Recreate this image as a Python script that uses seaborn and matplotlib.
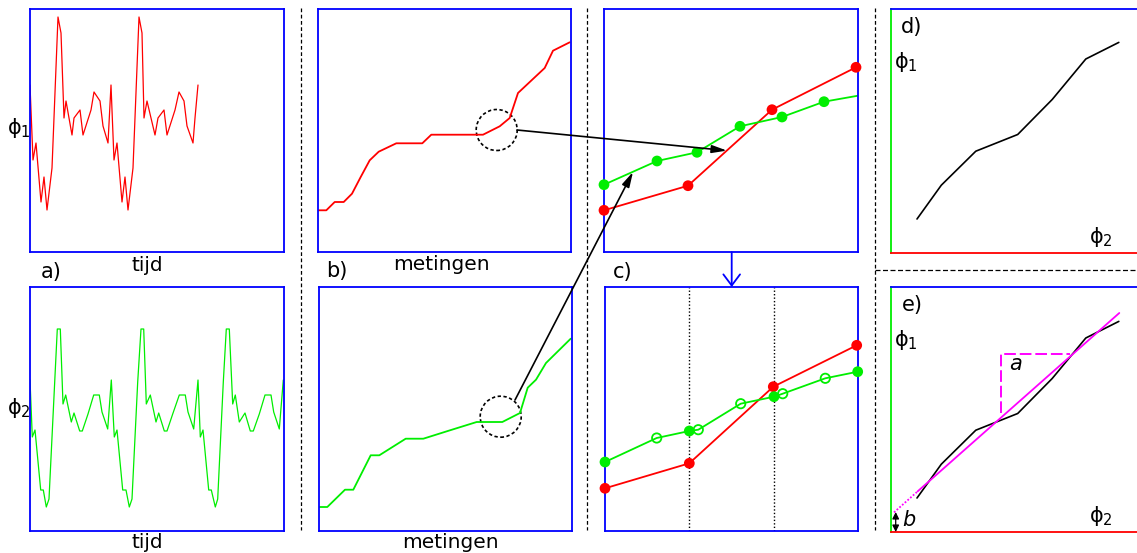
import matplotlib
matplotlib.use("Agg")
import matplotlib.pyplot as plt
import seaborn as sns
from matplotlib.patches import Circle, ConnectionPatch, FancyArrowPatch
from matplotlib.lines import Line2D

# a) ruwe signalen (tijd in px-eenheden van het paneel)
phi1_t = [0, 3, 6, 11, 14, 17, 22, 28, 31, 34, 36, 42, 44, 50, 53, 61, 64, 70, 73, 78,
          81, 84, 87, 92, 95, 98, 103, 109, 112, 114, 117, 125, 128, 134, 137, 145, 149, 154, 157, 163,
          165, 168]
phi1_v = [167, 92, 109, 50, 75, 42, 84, 235, 219, 134, 151, 117, 134, 142, 117, 142, 160, 151, 126, 109,
          167, 92, 109, 50, 75, 42, 84, 235, 219, 134, 151, 117, 134, 142, 117, 142, 160, 151, 126, 109,
          134, 167]
phi2_t = [0, 2.3, 5, 10.7, 13.3, 16.3, 19, 24.7, 27.3, 30.3, 33, 35.7, 41.3, 44, 49.7, 52.3, 58, 63.7, 69.3, 72, 77.7,
          81.3, 84.3, 87, 92.7, 96, 99.3, 102, 107.7, 111, 113.7, 116.3, 120.3, 126, 128.7, 134.3, 137, 142.7, 149.3, 155.3, 158, 163.7,
          168, 170.3, 173, 178.7, 181.3, 185.3, 187.7, 193.3, 196.3, 199.3, 202.7, 205.3, 209.3, 215, 220.3, 223.3, 229.3, 235, 241, 243.7, 249.3,
          253.3]
phi2_v = [151, 94, 101, 41, 41, 24, 32, 149, 202, 202, 127, 136, 109, 118, 100, 100, 117, 136, 136, 119, 102,
          151, 94, 101, 41, 41, 24, 32, 149, 202, 202, 127, 136, 109, 118, 100, 100, 117, 136, 136, 119, 102,
          151, 94, 101, 41, 41, 24, 32, 149, 202, 202, 127, 136, 109, 118, 100, 100, 117, 136, 136, 119, 102,
          151]

# b) gesorteerde metingen
b1_t = [0, 8.3, 16.7, 25.7, 34, 42.7, 51.7, 60.7, 78.3, 104.3, 113.3, 165, 181.7, 191.7, 200, 226.7, 235, 251.7]
b1_v = [41.7, 41.7, 50, 50, 58.3, 75, 91.7, 100.3, 108.7, 108.7, 117.3, 117.3, 125.7, 134, 159, 184, 201.3, 209.7]
b2_t = [0, 8.3, 26, 34.3, 51.7, 60.3, 86.7, 104.3, 131, 157.7, 183.3, 201, 208.7, 217, 227, 251.7]
b2_v = [24, 24, 41.3, 41.3, 75.7, 75.7, 92.3, 92.3, 100.7, 109, 109, 118, 143.3, 151.3, 168, 192.3]

# c) bovenste paneel
c1_red_t = [0, 84, 168, 252]
c1_red_v = [41.7, 66.3, 142.3, 184.7]
c1_green_t = [0, 53, 93, 136, 178, 220, 254]
c1_green_v = [67.3, 91, 99.7, 125.7, 135, 150.3, 156.3]
c1_green_dots = 6

# c) onderste paneel
grid_t = [84.3, 169]
c2_red_t = [0, 84.3, 168.3, 251.7]
c2_red_v = [42.7, 67.7, 144.3, 185.7]
c2_green_t = [0, 51.7, 84.3, 93.3, 135.7, 169, 177.7, 220.3, 252.7]
c2_green_v = [69, 93, 100, 101.3, 127.3, 134.3, 137.3, 152.7, 159.3]
c2_filled = [0, 2, 5, 8]
c2_open = [1, 3, 4, 6, 7]

# d) en e) phi1 tegen phi2
d_t = [26, 50.3, 84.8, 126.7, 161.2, 194.8, 227.8]
d_v = [34, 67.8, 101.8, 118.5, 153.5, 194, 210.6]
fit_x = [26.7, 228.3]
fit_y = [40.7, 219]
ext_x = [3, 26.7]
ext_y = [19.6, 40.7]
tri_x = [109.7, 109.7, 179]
tri_y = [119, 177.7, 177.7]

RED = "#ff0000"
GREEN = "#00ee00"
BLUE = "#0000ff"
MAGENTA = "#ff00ff"

sns.set_style("white")
plt.rcParams["font.family"] = ["DejaVu Sans"]
plt.rcParams["mathtext.fontset"] = "dejavusans"
plt.rcParams["text.color"] = "black"

W, H = 1137, 553
fig = plt.figure(figsize=(W / 100, H / 100), dpi=100)


def panel(l, t, r, b):
    ax = fig.add_axes([l / W, 1 - b / H, (r - l) / W, (b - t) / H])
    ax.set_xlim(0, r - l)
    ax.set_ylim(0, b - t)
    ax.set_xticks([])
    ax.set_yticks([])
    for s in ax.spines.values():
        s.set_color(BLUE)
        s.set_linewidth(1.3)
    return ax


def ftext(x, y, s, size=14, **kw):
    fig.text(x / W, 1 - y / H, s, ha="center", va="center", fontsize=size, color="black", **kw)


def fline(xs, ys, **kw):
    fig.add_artist(Line2D([x / W for x in xs], [1 - y / H for y in ys],
                          transform=fig.transFigure, **kw))


# a)
a1 = panel(30, 9, 284, 252)
sns.lineplot(x=phi1_t, y=phi1_v, ax=a1, color=RED, lw=0.9, sort=False, estimator=None)
a2 = panel(30, 287, 284, 531)
sns.lineplot(x=phi2_t, y=phi2_v, ax=a2, color=GREEN, lw=0.9, sort=False, estimator=None)

# b)
b1 = panel(318, 9, 571, 252)
sns.lineplot(x=b1_t, y=b1_v, ax=b1, color=RED, lw=1.3, sort=False, estimator=None)
b1.add_patch(Circle((178.7, 122), 20.5, fill=False, ls=(0, (2, 1.5)), lw=1.2, color="black"))
b2 = panel(319, 287, 572, 531)
sns.lineplot(x=b2_t, y=b2_v, ax=b2, color=GREEN, lw=1.3, sort=False, estimator=None)
b2.add_patch(Circle((181.7, 114.3), 20.5, fill=False, ls=(0, (2, 1.5)), lw=1.2, color="black"))

# c) boven
c1 = panel(604, 9, 858, 252)
sns.lineplot(x=c1_red_t, y=c1_red_v, ax=c1, color=RED, lw=1.3, sort=False, estimator=None)
sns.lineplot(x=c1_green_t, y=c1_green_v, ax=c1, color=GREEN, lw=1.3, sort=False, estimator=None)
sns.scatterplot(x=c1_red_t, y=c1_red_v, ax=c1, color=RED, s=60, edgecolor="none", zorder=4, clip_on=False)
sns.scatterplot(x=c1_green_t[:c1_green_dots], y=c1_green_v[:c1_green_dots], ax=c1, color=GREEN,
                s=60, edgecolor="none", zorder=4, clip_on=False)

# c) onder
c2 = panel(605, 287, 858, 531)
for g in grid_t:
    c2.axvline(g, color="black", ls=(0, (1, 1.5)), lw=1)
sns.lineplot(x=c2_red_t, y=c2_red_v, ax=c2, color=RED, lw=1.3, sort=False, estimator=None)
sns.lineplot(x=c2_green_t, y=c2_green_v, ax=c2, color=GREEN, lw=1.3, sort=False, estimator=None)
sns.scatterplot(x=c2_red_t, y=c2_red_v, ax=c2, color=RED, s=60, edgecolor="none", zorder=4, clip_on=False)
sns.scatterplot(x=[c2_green_t[i] for i in c2_filled], y=[c2_green_v[i] for i in c2_filled], ax=c2,
                color=GREEN, s=60, edgecolor="none", zorder=4, clip_on=False)
sns.scatterplot(x=[c2_green_t[i] for i in c2_open], y=[c2_green_v[i] for i in c2_open], ax=c2,
                color=GREEN, facecolor="none", edgecolor=GREEN, linewidth=1.3, s=45, zorder=4)

# d) en e)
for top, bot, label in [(9, 253, "d)"), (287, 532, "e)")]:
    ax = panel(891, top, 1137, bot)
    ax.spines["right"].set_visible(False)
    ax.spines["left"].set_color(GREEN)
    ax.spines["bottom"].set_color(RED)
    sns.lineplot(x=d_t, y=d_v, ax=ax, color="black", lw=1.2, sort=False, estimator=None)
    if label == "e)":
        sns.lineplot(x=fit_x, y=fit_y, ax=ax, color=MAGENTA, lw=1.3, sort=False, estimator=None)
        sns.lineplot(x=ext_x, y=ext_y, ax=ax, color=MAGENTA, lw=1.3, ls=(0, (1, 1)),
                     sort=False, estimator=None)
        sns.lineplot(x=tri_x, y=tri_y, ax=ax, color=MAGENTA, lw=1.4, ls=(0, (6, 2)),
                     sort=False, estimator=None)
        ax.annotate("", xy=(4.7, 0), xytext=(4.7, 20),
                    arrowprops=dict(arrowstyle="<|-|>,head_length=0.5,head_width=0.25", lw=0.9,
                                    color="black", mutation_scale=8, shrinkA=0, shrinkB=0))
    ftext(912, top + 18, label, size=15)
    ftext(906, top + 53, r"$\mathrm{\phi}_1$", size=15)
    ftext(1101, bot - 16, r"$\mathrm{\phi}_2$", size=15)

ftext(1016, 364, "a", size=15, style="italic")
ftext(909, 520, "b", size=15, style="italic")

# pijlen tussen panelen
for src, xy_a, xy_b in [(b1, (199, 122), (123, 101.4)), (b2, (196, 131), (29, 80.1))]:
    con = ConnectionPatch(xyA=xy_a, coordsA=src.transData, xyB=xy_b, coordsB=c1.transData,
                          arrowstyle="-|>,head_length=0.5,head_width=0.13", mutation_scale=18,
                          color="black", lw=1.2, shrinkA=0, shrinkB=0, zorder=10)
    fig.add_artist(con)

fig.add_artist(FancyArrowPatch((731.7 / W, 1 - 252 / H), (731.7 / W, 1 - 287 / H),
                               transform=fig.transFigure, color=BLUE, lw=1.3,
                               arrowstyle="->,head_length=0.4,head_width=0.3", mutation_scale=20,
                               shrinkA=0, shrinkB=0))

# scheidingslijnen
for x in [301, 587, 875]:
    fline([x, x], [8, 530], color="black", lw=0.9, ls=(0, (3, 2)))
fline([875, 1137], [270, 270], color="black", lw=0.9, ls=(0, (4, 2)))

# labels
ftext(19, 128, r"$\mathrm{\phi}_1$", size=15)
ftext(19, 408, r"$\mathrm{\phi}_2$", size=15)
ftext(147, 265, "tijd", size=14.5)
ftext(147, 543, "tijd", size=14.5)
ftext(51, 272, "a)", size=15)
ftext(337, 271, "b)", size=15)
ftext(441, 264, "metingen", size=14.5)
ftext(450, 543, "metingen", size=14.5)
ftext(623, 272, "c)", size=15)

fig.savefig("out.png", dpi=100)
